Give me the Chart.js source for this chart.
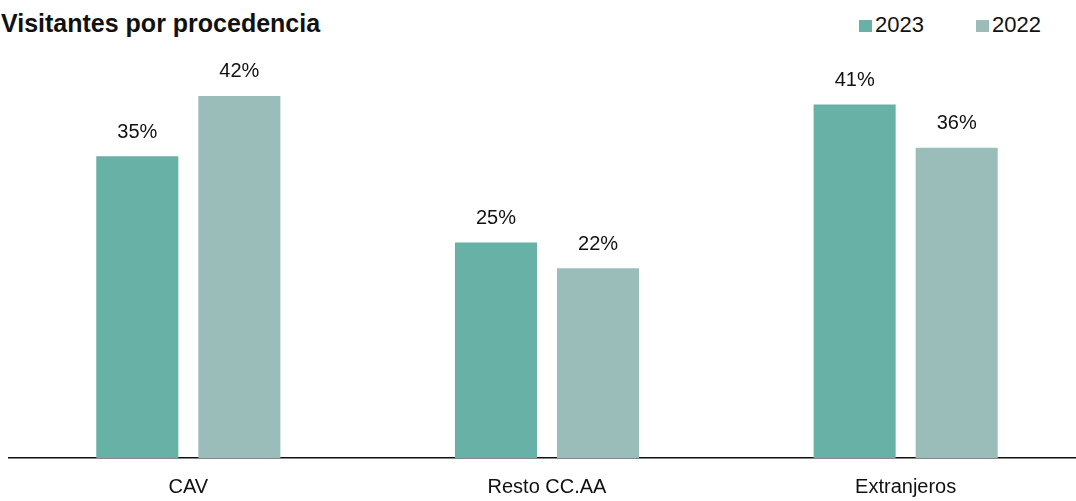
<!DOCTYPE html>
<html>
<head>
<meta charset="utf-8">
<script src="https://cdn.jsdelivr.net/npm/chart.js@4"></script>
<style>
  html, body { margin: 0; padding: 0; background: #fff; overflow: hidden; }
  body { width: 1076px; height: 501px; position: relative; font-family: "Liberation Sans", Arial, sans-serif; }
  .title { position: absolute; left: 1px; top: 9px; font-size: 25px; font-weight: bold; color: #111; letter-spacing: 0px; }
  .legend { position: absolute; top: 12px; font-size: 22px; color: #111; }
  .legend span.box { display: inline-block; width: 13px; height: 12px; margin-right: 3px; vertical-align: 0px; }
  .wrap { position: absolute; left: 0; top: 0; width: 1086px; height: 520px; }
</style>
</head>
<body>
<div class="title">Visitantes por procedencia</div>
<div class="legend" style="left:859px"><span class="box" style="background:#68b1a6"></span>2023</div>
<div class="legend" style="left:976px"><span class="box" style="background:#9bbdba"></span>2022</div>
<div class="wrap"><canvas id="chart"></canvas></div>
<script>
const categories = ['CAV', 'Resto CC.AA', 'Extranjeros'];
const values2023 = [35, 25, 41];
const values2022 = [42, 22, 36];
const seriesNames = ['2023', '2022'];
const colors = ['#68b1a6', '#9bbdba'];

// draws the "NN%" text above each bar
const valueLabels = {
    id: 'valueLabels',
    afterDatasetsDraw(chart) {
        const ctx = chart.ctx;
        ctx.save();
        ctx.font = '20px "Liberation Sans", Arial, sans-serif';
        ctx.fillStyle = '#111';
        ctx.textAlign = 'center';
        ctx.textBaseline = 'bottom';
        chart.data.datasets.forEach((ds, i) => {
            chart.getDatasetMeta(i).data.forEach((bar, j) => {
                ctx.fillText(ds.data[j] + '%', bar.x, bar.y - 14);
            });
        });
        ctx.restore();
    }
};

new Chart(document.getElementById('chart'), {
    type: 'bar',
    data: {
        labels: categories,
        datasets: [
            { label: seriesNames[0], data: values2023, backgroundColor: colors[0] },
            { label: seriesNames[1], data: values2022, backgroundColor: colors[1] }
        ]
    },
    options: {
        responsive: true,
        maintainAspectRatio: false,
        animation: false,
        layout: { padding: { left: 9, right: 1, top: 27, bottom: 4 } },
        datasets: { bar: { categoryPercentage: 0.569, barPercentage: 0.804 } },
        plugins: { legend: { display: false }, tooltip: { enabled: false } },
        scales: {
            x: {
                grid: { display: false, drawTicks: false },
                border: { display: true, color: '#111', width: 1.5 },
                ticks: { color: '#111', padding: 17, font: { size: 20, family: '"Liberation Sans", Arial, sans-serif' } }
            },
            y: { display: false, min: 0, max: 50 }
        }
    },
    plugins: [valueLabels]
});
</script>
</body>
</html>
